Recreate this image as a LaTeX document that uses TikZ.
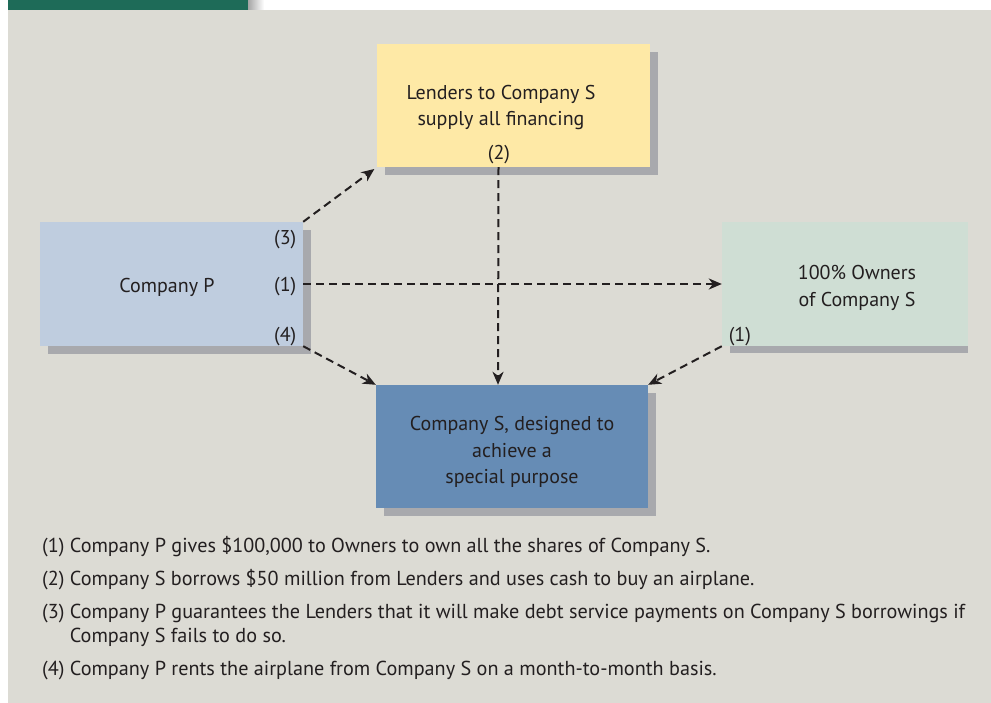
\documentclass[tikz,border=0pt]{standalone}
\usepackage{fontspec}
\setmainfont{PT Sans}
\usetikzlibrary{arrows.meta,shadows}
\definecolor{bggray}{HTML}{DCDBD4}
\definecolor{barGreen}{HTML}{1E6B58}
\definecolor{lendfill}{HTML}{FEE9A6}
\definecolor{pfill}{HTML}{BFCDDF}
\definecolor{ownfill}{HTML}{CFDED4}
\definecolor{sfill}{HTML}{668CB5}
\definecolor{shadowgray}{HTML}{A8A9AD}
\definecolor{ink}{HTML}{231F20}
\begin{document}
\begin{tikzpicture}[x=1pt,y=-1pt,
	box/.style={rectangle,inner sep=0pt,text=ink,align=center,
		font=\fontsize{20}{26.5}\selectfont},
	boxshadow/.style={drop shadow={shadow xshift=8pt,shadow yshift=-8pt,
		fill=shadowgray,opacity=1}},
	lbl/.style={inner sep=0pt,text=ink,font=\fontsize{20}{24}\selectfont},
	note/.style={inner sep=0pt,text=ink,anchor=base west,align=left,
		font=\fontsize{20.2}{24}\selectfont},
	flow/.style={draw=ink,line width=2pt,dash pattern=on 8pt off 5pt,
		-{Stealth[length=13pt,width=11pt,inset=4pt]}}]
	\useasboundingbox (0,0) rectangle (991,703);
	% page background and tab
	\fill[bggray] (8,10) rectangle (991,703);
	\fill[barGreen] (8,0) rectangle (248,10);
	\shade[left color=black!35,right color=white] (248,0) rectangle (264,10);
	% boxes
	\node[box,boxshadow,fill=lendfill,minimum width=273,minimum height=123] (lend) at (513.5,105.5) {};
	\node[box,boxshadow,fill=pfill,minimum width=263,minimum height=124] (compP) at (171.5,284) {};
	\fill[shadowgray] (730,346) rectangle (968,353);
	\node[box,fill=ownfill,minimum width=246,minimum height=124] (own) at (845,284) {};
	\node[box,boxshadow,fill=sfill,minimum width=272,minimum height=123] (compS) at (512,446.5) {};
	% box texts
	\node[box] (lendtxt) at ([xshift=-12.5,yshift=-2]lend.center) {Lenders to Company S\\supply all financing};
	\node[lbl] (l2) at ([xshift=-14.5,yshift=13]lend.south) {(2)};
	\node[box] (ptxt) at ([xshift=-4.5,yshift=-3]compP.center) {Company P};
	\node[lbl] (p3) at ([xshift=-18,yshift=-18]compP.north east) {(3)};
	\node[lbl] (p1) at ([xshift=-18,yshift=-3]compP.east) {(1)};
	\node[lbl] (p4) at ([xshift=-18,yshift=10]compP.south east) {(4)};
	\node[box] (owntxt) at ([xshift=12,yshift=-4]own.center) {100\% Owners\\of Company S};
	\node[lbl] (o1) at ([xshift=18,yshift=10]own.south west) {(1)};
	\node[box] (stxt) at ([yshift=-5.5]compS.center) {Company S, designed to\\achieve a\\special purpose};
	% flows
	\draw[flow,shorten >=3pt] (compP.north east) -- (lend.south west);
	\draw[flow] (compP.east) -- (own.west);
	\draw[flow] (compP.south east) -- (compS.north west);
	\draw[flow] ([xshift=-15]lend.south) -- ([xshift=-14]compS.north);
	\draw[flow] (own.south west) -- (compS.north east);
	% notes
	\node[note] (n1) at (42,552.5) {(1) Company P gives \$100,000 to Owners to own all the shares of Company S.};
	\node[note] (n2) at (42,585.5) {(2) Company S borrows \$50 million from Lenders and uses cash to buy an airplane.};
	\node[note] (n3) at (42,642.5) {(3) Company P guarantees the Lenders that it will make debt service payments on Company S borrowings if\\
		\phantom{(3) }Company S fails to do so.};
	\node[note] (n4) at (42,675) {(4) Company P rents the airplane from Company S on a month-to-month basis.};
\end{tikzpicture}
\end{document}
